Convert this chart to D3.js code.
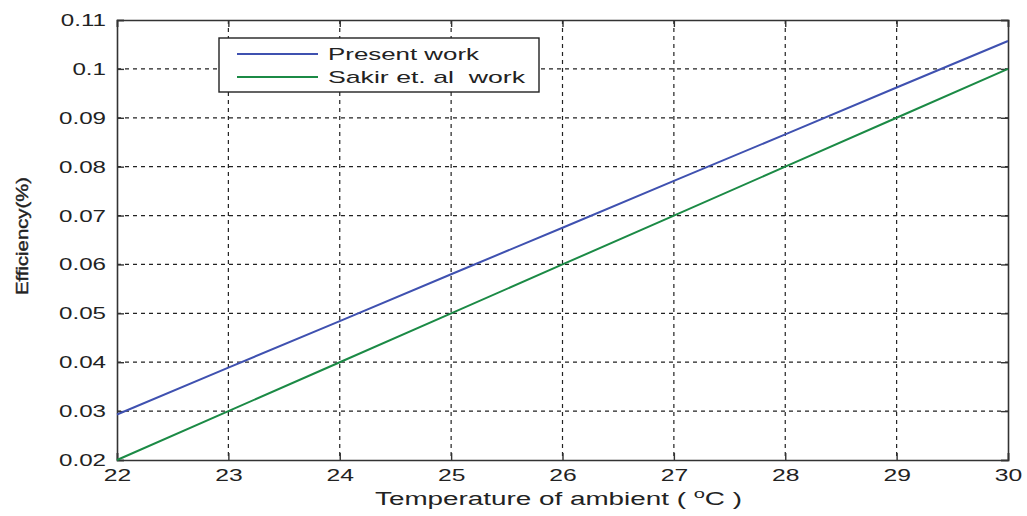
<!DOCTYPE html>
<html>
<head>
<meta charset="utf-8">
<script src="https://cdn.jsdelivr.net/npm/d3@7"></script>
<style>
  body { margin: 0; background: #fff; }
  svg text { font-family: "Liberation Sans", Arial, sans-serif; fill: #222; }
</style>
</head>
<body>
<div id="chart"></div>
<script>
// data
const temps = [22, 23, 24, 25, 26, 27, 28, 29, 30];
const presentWork = [0.0293, 0.0389, 0.0484, 0.0580, 0.0675, 0.0771, 0.0866, 0.0962, 0.1057];
const sakirWork = [0.020, 0.030, 0.040, 0.050, 0.060, 0.070, 0.080, 0.090, 0.100];
const yTicks = [0.02, 0.03, 0.04, 0.05, 0.06, 0.07, 0.08, 0.09, 0.1, 0.11];
const seriesNames = ["Present work", "Sakir et. al  work"];
const seriesColors = ["#3f51b0", "#1b8a45"];

const W = 1027, H = 516;
const margin = { top: 20, right: 19, bottom: 56, left: 117 };
const width = W - margin.left - margin.right;
const height = H - margin.top - margin.bottom;

const svg = d3.select("#chart").append("svg")
    .attr("width", W)
    .attr("height", H);

const g = svg.append("g")
    .attr("transform", `translate(${margin.left},${margin.top})`);

const x = d3.scaleLinear().domain([22, 30]).range([0, width]);
const y = d3.scaleLinear().domain([0.02, 0.11]).range([height, 0]);

// the reference text is stretched sideways
function widen(sel, k) {
    sel.each(function() {
        const len = this.getComputedTextLength();
        d3.select(this).attr("textLength", len * k).attr("lengthAdjust", "spacingAndGlyphs");
    });
}

// grid
g.append("g").selectAll("line")
    .data(temps.slice(1, -1))
    .join("line")
    .attr("x1", d => x(d)).attr("x2", d => x(d))
    .attr("y1", 0).attr("y2", height)
    .attr("stroke", "#222").attr("stroke-width", 1.2)
    .attr("stroke-dasharray", "4,4");

g.append("g").selectAll("line")
    .data(yTicks.slice(1, -1))
    .join("line")
    .attr("x1", 0).attr("x2", width)
    .attr("y1", d => y(d)).attr("y2", d => y(d))
    .attr("stroke", "#222").attr("stroke-width", 1.2)
    .attr("stroke-dasharray", "4,4");

// axes with inward ticks
const xAxis = g.append("g")
    .attr("transform", `translate(0,${height})`)
    .call(d3.axisBottom(x).tickValues(temps).tickSize(-7).tickPadding(10).tickFormat(d3.format("d")));
const xAxisTop = g.append("g")
    .call(d3.axisTop(x).tickValues(temps).tickSize(-7).tickFormat(""));
const yAxis = g.append("g")
    .call(d3.axisLeft(y).tickValues(yTicks).tickSize(-7).tickPadding(11)
        .tickFormat(d => d3.format("")(+d.toFixed(2))));
const yAxisRight = g.append("g")
    .attr("transform", `translate(${width},0)`)
    .call(d3.axisRight(y).tickValues(yTicks).tickSize(-7).tickFormat(""));

[xAxis, xAxisTop, yAxis, yAxisRight].forEach(a => {
    a.select(".domain").attr("stroke", "#333").attr("stroke-width", 1.6);
    a.selectAll(".tick line").attr("stroke", "#333").attr("stroke-width", 1.4);
    a.selectAll("text").attr("font-size", 17).attr("fill", "#222");
});
xAxis.selectAll("text").attr("dy", "0.62em");
widen(xAxis.selectAll("text"), 1.45);
widen(yAxis.selectAll("text"), 1.42);

// lines
const line = d3.line().x((d, i) => x(temps[i])).y(d => y(d));
[presentWork, sakirWork].forEach((s, i) => {
    g.append("path")
        .datum(s)
        .attr("fill", "none")
        .attr("stroke", seriesColors[i])
        .attr("stroke-width", 2)
        .attr("d", line);
});

// legend
const legend = g.append("g").attr("transform", `translate(${219 - margin.left},${38 - margin.top})`);
legend.append("rect")
    .attr("width", 320).attr("height", 54)
    .attr("fill", "#fff").attr("stroke", "#222").attr("stroke-width", 1.4);
const legendWidths = [151, 197];
seriesNames.forEach((name, i) => {
    const yy = 16 + i * 23;
    legend.append("line")
        .attr("x1", 18).attr("x2", 99)
        .attr("y1", yy).attr("y2", yy)
        .attr("stroke", seriesColors[i]).attr("stroke-width", 2);
    legend.append("text")
        .attr("x", 109).attr("y", yy)
        .attr("dy", "0.35em")
        .attr("font-size", 17)
        .attr("xml:space", "preserve")
        .style("white-space", "pre")
        .attr("textLength", legendWidths[i])
        .attr("lengthAdjust", "spacingAndGlyphs")
        .text(name);
});

// axis titles
const xt = svg.append("text")
    .attr("x", 375)
    .attr("y", 505)
    .attr("font-size", 18)
    .attr("xml:space", "preserve")
    .style("white-space", "pre")
    .attr("textLength", 367)
    .attr("lengthAdjust", "spacingAndGlyphs");
xt.append("tspan").text("Temperature of ambient ( ");
xt.append("tspan").attr("font-size", 13).attr("dy", -7).text("o");
xt.append("tspan").attr("dy", 7).text("C )");

svg.append("text")
    .attr("transform", `translate(28,236) rotate(-90)`)
    .attr("text-anchor", "middle")
    .attr("font-size", 17)
    .attr("stroke", "#222")
    .attr("stroke-width", 0.4)
    .attr("textLength", 118)
    .attr("lengthAdjust", "spacingAndGlyphs")
    .text("Efficiency(%)");
</script>
</body>
</html>
